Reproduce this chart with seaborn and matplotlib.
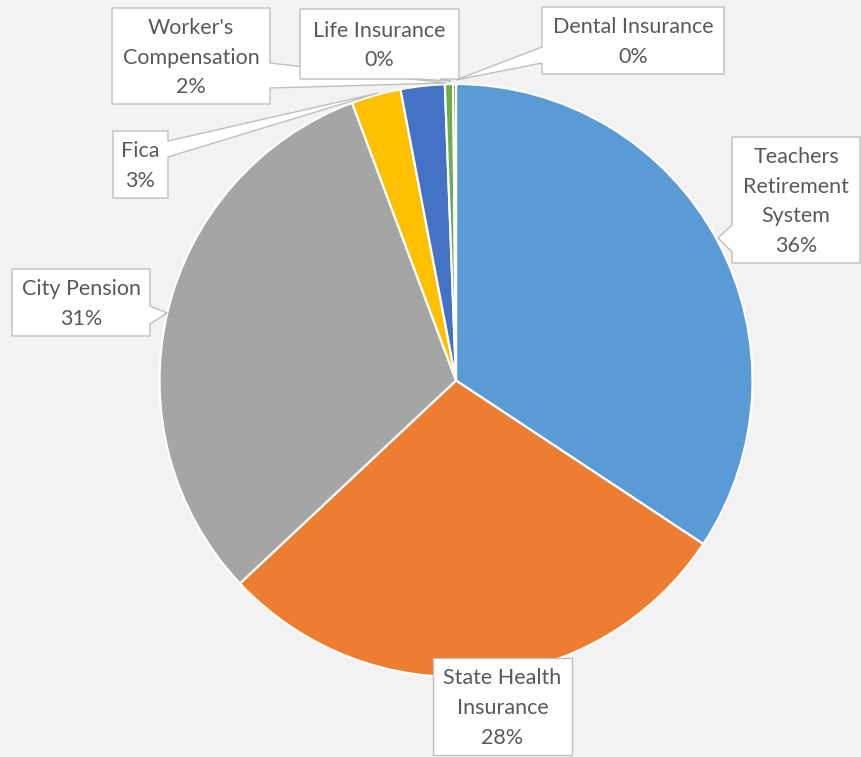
import numpy as np
import matplotlib.pyplot as plt
import seaborn as sns
from matplotlib.patches import Polygon

# Data (shares; label text as printed on the chart)
categories = ["Teachers\nRetirement\nSystem", "State Health\nInsurance", "City Pension",
              "Fica", "Worker's\nCompensation", "Life Insurance", "Dental Insurance"]
shares = [34.3, 28.7, 31.3, 2.7, 2.4, 0.45, 0.15]
pct_labels = ["36%", "28%", "31%", "3%", "2%", "0%", "0%"]
colors = ["#5B9BD5", "#ED7D31", "#A5A5A5", "#FFC000", "#4472C4", "#70AD47", "#264478"]

sns.set_style("white")
plt.rcParams['font.family'] = ['Lato', 'DejaVu Sans']

W, H = 861, 757
CX, CY, R = 456.0, 380.5, 296.5

fig = plt.figure(figsize=(W / 100, H / 100), dpi=100)
fig.patch.set_facecolor("#F2F2F2")
ax = fig.add_axes([(CX - R) / W, (H - CY - R) / H, 2 * R / W, 2 * R / H])
ax.set_facecolor("none")

ax.pie(shares, colors=colors, startangle=90, counterclock=False, radius=1,
       wedgeprops=dict(edgecolor="white", linewidth=1.6))
ax.set_xlim(-1, 1)
ax.set_ylim(-1, 1)
ax.set_aspect("equal")
ax.axis("off")


def px(x, y):
    return ((x - CX) / R, (CY - y) / R)


# callout layout in pixels: box (x0, y0, x1, y1), side, wedge base (a, b), tip
callouts = [
    ((732, 137, 860, 263), "left", (225, 252), (718, 238)),
    ((433, 658, 572, 755), None, None, None),
    ((12, 269, 150, 336), "right", (306, 324), (167, 313)),
    ((113, 131, 168, 198), "right", (141, 157), (378, 93)),
    ((112, 8, 270, 104), "right", (63, 88), (446, 83)),
    ((300, 9, 459, 79), "bottom", (418, 440), (451, 81)),
    ((542, 7, 724, 74), "left", (47, 63), (456, 80)),
]

for cat, pct, (box, side, base, tip) in zip(categories, pct_labels, callouts):
    x0, y0, x1, y1 = box
    if side == "left":
        pts = [(x0, y0), (x1, y0), (x1, y1), (x0, y1), (x0, base[1]), tip, (x0, base[0])]
    elif side == "right":
        pts = [(x0, y0), (x1, y0), (x1, base[0]), tip, (x1, base[1]), (x1, y1), (x0, y1)]
    elif side == "bottom":
        pts = [(x0, y0), (x1, y0), (x1, y1), (base[1], y1), tip, (base[0], y1), (x0, y1)]
    else:
        pts = [(x0, y0), (x1, y0), (x1, y1), (x0, y1)]
    poly = Polygon([px(*p) for p in pts], closed=True, facecolor="white",
                   edgecolor="#BFBFBF", linewidth=1.0, clip_on=False, zorder=5)
    ax.add_patch(poly)
    tx, ty = px((x0 + x1) / 2, (y0 + y1) / 2 + 1.5)
    ax.text(tx, ty, f"{cat}\n{pct}", ha="center", va="center", fontsize=15.5,
            color="#595959", linespacing=1.62, zorder=6, clip_on=False)

fig.savefig("out.png", dpi=100, facecolor=fig.get_facecolor())
